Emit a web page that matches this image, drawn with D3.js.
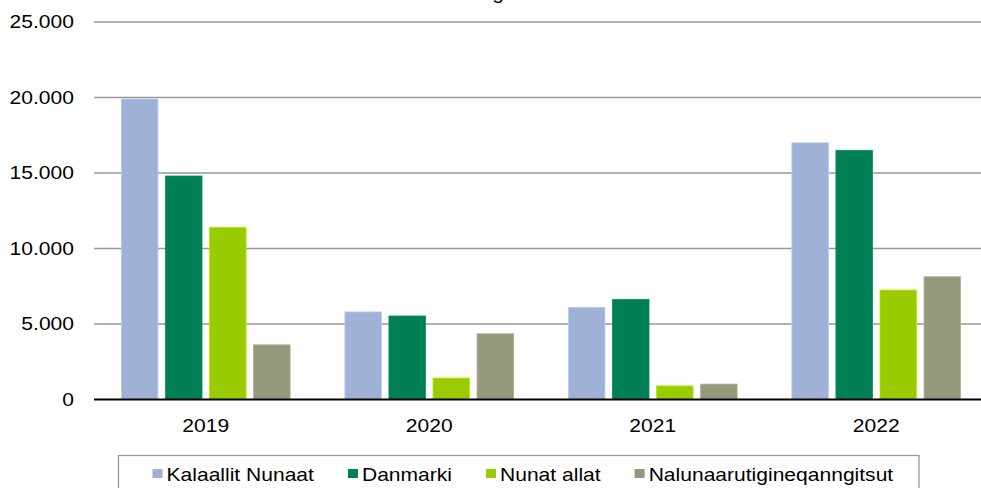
<!DOCTYPE html>
<html>
<head>
<meta charset="utf-8">
<script src="https://cdn.jsdelivr.net/npm/d3@7"></script>
<style>
html,body{margin:0;padding:0;background:#fff;}
svg{display:block;font-family:"Liberation Sans",Arial,sans-serif;}
</style>
</head>
<body>
<svg id="chart" width="981" height="488"></svg>
<script>
const years = ["2019", "2020", "2021", "2022"];
const seriesNames = ["Kalaallit Nunaat", "Danmarki", "Nunat allat", "Nalunaarutigineqanngitsut"];
const seriesColors = ["#9FB1D6", "#007E55", "#99CC00", "#96987C"];
const kalaallitNunaat = [19900, 5800, 6100, 17000];
const danmarki = [14800, 5530, 6630, 16500];
const nunatAllat = [11400, 1420, 900, 7250];
const nalunaarutigineqanngitsut = [3620, 4350, 1020, 8130];
const yTicks = [0, 5000, 10000, 15000, 20000, 25000];
const yTickLabels = ["0", "5.000", "10.000", "15.000", "20.000", "25.000"];
const titleText = "g";

const seriesValues = [kalaallitNunaat, danmarki, nunatAllat, nalunaarutigineqanngitsut];
const svg = d3.select("#chart");
const SX = 1.17, FS = 18;

const x0 = d3.scaleBand().domain(years).range([94, 988]).paddingInner(0.245).paddingOuter(0.1225);
const x1 = d3.scaleBand().domain(seriesNames).range([0, x0.bandwidth()]).paddingInner(0.17);
const y = d3.scaleLinear().domain([0, 25000]).range([399.5, 22]);

function stretchedText(g, x, yy, txt, anchor) {
  return g.append("text")
    .attr("transform", `translate(${x},${yy}) scale(${SX},1)`)
    .attr("text-anchor", anchor || "start")
    .attr("font-size", FS)
    .attr("fill", "#000")
    .text(txt);
}

// title (clipped at top, as in the reference)
stretchedText(svg, 498, -1.5, titleText, "middle");

// gridlines
const grid = svg.append("g");
grid.selectAll("line").data(yTicks.filter(d => d > 0)).join("line")
  .attr("x1", 94).attr("x2", 981)
  .attr("y1", d => y(d)).attr("y2", d => y(d))
  .attr("stroke", "#999").attr("stroke-width", 1.5);

// y labels
yTicks.forEach((t, i) => {
  stretchedText(svg, 74, y(t) + 6.3, yTickLabels[i], "end");
});

// bars
const groups = svg.append("g").selectAll("g").data(years).join("g")
  .attr("transform", d => `translate(${x0(d)},0)`);
groups.selectAll("rect")
  .data((d, i) => seriesNames.map((s, j) => ({s, j, v: seriesValues[j][i]})))
  .join("rect")
  .attr("x", d => x1(d.s))
  .attr("width", x1.bandwidth())
  .attr("y", d => y(d.v))
  .attr("height", d => y(0) - y(d.v))
  .attr("fill", d => seriesColors[d.j])
  .attr("stroke", d => d3.color(seriesColors[d.j]).brighter(0.4))
  .attr("stroke-width", 0.8);

// axis line
svg.append("line").attr("x1", 94).attr("x2", 981)
  .attr("y1", y(0)).attr("y2", y(0))
  .attr("stroke", "#000").attr("stroke-width", 2);

// x labels
years.forEach(yr => {
  stretchedText(svg, x0(yr) + x0.bandwidth() / 2, 432, yr, "middle");
});

// legend
svg.append("rect").attr("x", 118.5).attr("y", 455.5).attr("width", 800.5).attr("height", 50)
  .attr("fill", "#fff").attr("stroke", "#999").attr("stroke-width", 1.3);
let lx = 152.5;
seriesNames.forEach((s, j) => {
  svg.append("rect").attr("x", lx).attr("y", 469).attr("width", 10).attr("height", 9)
    .attr("fill", seriesColors[j]);
  const t = stretchedText(svg, lx + 14, 480.5, s, "start");
  const w = t.node().getComputedTextLength() * SX;
  lx += 14 + w + 34;
});
</script>
</body>
</html>
